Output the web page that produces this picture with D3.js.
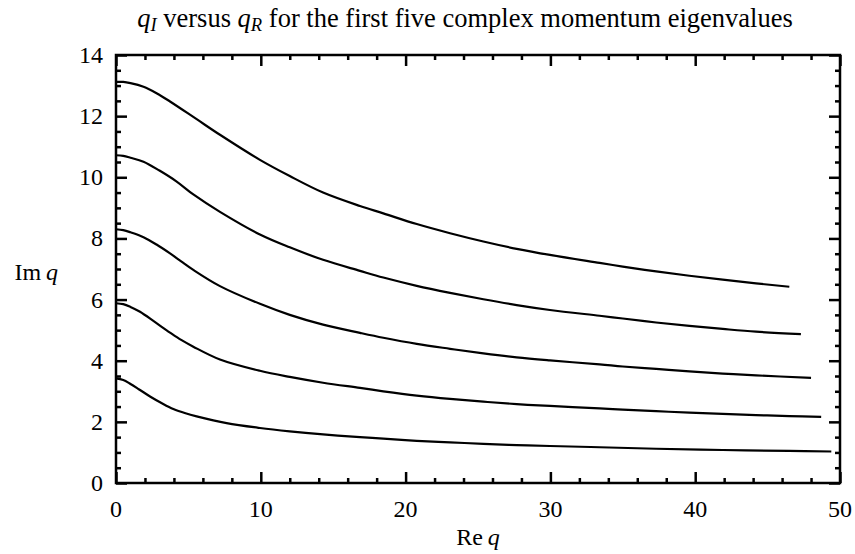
<!DOCTYPE html>
<html><head><meta charset="utf-8">
<script src="https://cdn.jsdelivr.net/npm/d3@7"></script>
<style>body{margin:0;background:#fff}svg{display:block}text{font-family:"Liberation Serif","DejaVu Serif","Times New Roman",serif;fill:#000}</style>
</head><body><svg id="c" width="855" height="554"></svg>
<script>
// Data
const curve1X = [0, 0.5, 1.0, 1.6, 2.35, 3.2, 3.96, 4.8, 5.57, 7.64, 9.94, 12.0, 14.3, 16.85, 18.46, 20.77, 23.07, 25.37, 27.67, 29.97, 33.4, 37.3, 41.9, 46.5, 49.4];
const curve1Y = [3.42, 3.37, 3.24, 3.06, 2.83, 2.6, 2.42, 2.28, 2.18, 1.96, 1.80, 1.69, 1.59, 1.50, 1.45, 1.38, 1.33, 1.28, 1.24, 1.21, 1.17, 1.12, 1.08, 1.05, 1.03];
const curve2X = [0, 0.5, 1.0, 1.66, 2.7, 3.73, 4.5, 5.34, 7.18, 9.94, 12.0, 14.3, 16.85, 18.46, 20.77, 23.07, 25.37, 27.67, 29.97, 33.4, 35.0, 37.3, 39.6, 41.9, 44.2, 46.5, 48.7];
const curve2Y = [5.88, 5.85, 5.76, 5.60, 5.26, 4.92, 4.68, 4.46, 4.04, 3.67, 3.47, 3.28, 3.11, 3.00, 2.86, 2.75, 2.66, 2.58, 2.52, 2.44, 2.40, 2.35, 2.30, 2.26, 2.22, 2.19, 2.16];
const curve3X = [0, 0.5, 1.0, 1.9, 2.8, 3.73, 4.5, 5.34, 7.18, 9.94, 12.0, 14.3, 16.85, 18.46, 20.77, 23.07, 25.37, 27.67, 29.97, 33.4, 35.0, 37.3, 39.6, 41.9, 44.2, 48.0];
const curve3Y = [8.30, 8.27, 8.20, 8.04, 7.80, 7.51, 7.25, 6.97, 6.44, 5.86, 5.50, 5.18, 4.91, 4.75, 4.55, 4.39, 4.24, 4.11, 4.01, 3.88, 3.81, 3.73, 3.65, 3.58, 3.52, 3.44];
const curve4X = [0, 0.5, 1.0, 1.9, 3.0, 4.19, 5.34, 7.18, 9.94, 12.0, 14.3, 16.85, 18.46, 20.77, 23.07, 25.37, 27.67, 29.97, 33.4, 35.0, 37.3, 39.6, 41.9, 44.2, 47.3];
const curve4Y = [10.72, 10.70, 10.64, 10.51, 10.22, 9.86, 9.44, 8.87, 8.13, 7.71, 7.30, 6.94, 6.72, 6.45, 6.22, 6.01, 5.82, 5.66, 5.47, 5.38, 5.25, 5.14, 5.04, 4.95, 4.87];
const curve5X = [0, 0.5, 1.0, 1.9, 2.8, 3.73, 5.57, 7.18, 9.94, 12.0, 14.3, 16.85, 18.46, 20.77, 23.07, 25.37, 27.67, 29.97, 33.4, 35.0, 37.3, 39.6, 41.9, 44.2, 46.5];
const curve5Y = [13.12, 13.12, 13.08, 12.96, 12.75, 12.48, 11.90, 11.39, 10.57, 10.04, 9.50, 9.06, 8.82, 8.47, 8.17, 7.90, 7.66, 7.46, 7.20, 7.08, 6.92, 6.78, 6.65, 6.53, 6.42];
const xTickValues = [0, 10, 20, 30, 40, 50];
const yTickValues = [0, 2, 4, 6, 8, 10, 12, 14];
const xDomain = [0, 50];
const yDomain = [0, 14];

const W = 855, H = 554;
const m = {left: 116, top: 55, right: 15, bottom: 71};
const svg = d3.select("#c");
const x = d3.scaleLinear().domain(xDomain).range([m.left, W - m.right]);
const y = d3.scaleLinear().domain(yDomain).range([H - m.bottom, m.top]);

const curves = [[curve1X, curve1Y], [curve2X, curve2Y], [curve3X, curve3Y], [curve4X, curve4Y], [curve5X, curve5Y]];
const line = d3.line().x(d => x(d[0])).y(d => y(d[1])).curve(d3.curveCatmullRom.alpha(0.5));
curves.forEach(([xs, ys]) => {
  svg.append("path").datum(xs.map((v, i) => [v, ys[i]]))
    .attr("d", line).attr("fill", "none").attr("stroke", "#000").attr("stroke-width", 2.2);
});

const xMinor = d3.range(0, 50.001, 2).filter(v => !xTickValues.includes(v));
const yMinor = d3.range(0, 14.001, 0.5).filter(v => !yTickValues.includes(v));
function ticks(axisGen, sc, major, minor, transform) {
  svg.append("g").attr("transform", transform)
    .call(axisGen(sc).tickValues(major).tickSize(-11).tickFormat(""))
    .call(g => { g.select(".domain").remove(); g.selectAll("line").attr("stroke-width", 2.5); });
  svg.append("g").attr("transform", transform)
    .call(axisGen(sc).tickValues(minor).tickSize(-5).tickFormat(""))
    .call(g => { g.select(".domain").remove(); g.selectAll("line").attr("stroke-width", 2.5); });
}
ticks(d3.axisBottom, x, xTickValues, xMinor, `translate(0,${H - m.bottom})`);
ticks(d3.axisTop, x, xTickValues, xMinor, `translate(0,${m.top})`);
ticks(d3.axisLeft, y, yTickValues, yMinor, `translate(${m.left},0)`);
ticks(d3.axisRight, y, yTickValues, yMinor, `translate(${W - m.right},0)`);

svg.append("rect").attr("x", m.left).attr("y", m.top)
  .attr("width", W - m.left - m.right).attr("height", H - m.top - m.bottom)
  .attr("fill", "none").attr("stroke", "#000").attr("stroke-width", 2.5);

// tick labels
svg.append("g").selectAll("text").data(xTickValues).join("text")
  .attr("x", d => x(d)).attr("y", 517).attr("text-anchor", "middle")
  .style("font-size", "24px").text(d => d);
svg.append("g").selectAll("text").data(yTickValues).join("text")
  .attr("x", 103).attr("y", d => y(d) + 8).attr("text-anchor", "end")
  .style("font-size", "24px").text(d => d);

// axis labels
const xl = svg.append("text").attr("x", (x(0) + x(50)) / 2).attr("y", 545).attr("text-anchor", "middle").style("font-size", "24px");
xl.append("tspan").text("Re\u2009");
xl.append("tspan").attr("font-style", "italic").text("q");
const yl = svg.append("text").attr("x", 58).attr("y", 280).attr("text-anchor", "end").style("font-size", "24px");
yl.append("tspan").text("Im\u2009");
yl.append("tspan").attr("font-style", "italic").text("q");

// title, sized to span the same width as in the reference
const t = svg.append("text").attr("x", 465).attr("y", 27).attr("text-anchor", "middle").style("font-size", "21px");
t.append("tspan").attr("font-style", "italic").text("q");
const s1 = t.append("tspan").attr("font-style", "italic").attr("dy", 4).text("I");
t.append("tspan").attr("dy", -4).text(" versus ");
t.append("tspan").attr("font-style", "italic").text("q");
const s2 = t.append("tspan").attr("font-style", "italic").attr("dy", 4).text("R");
t.append("tspan").attr("dy", -4).text(" for the first five complex momentum eigenvalues");
s1.style("font-size", "15px"); s2.style("font-size", "15px");
const len = t.node().getComputedTextLength();
const fs = 21 * 656 / len;
t.style("font-size", fs + "px");
s1.style("font-size", (fs * 0.7) + "px"); s2.style("font-size", (fs * 0.7) + "px");
</script></body></html>
